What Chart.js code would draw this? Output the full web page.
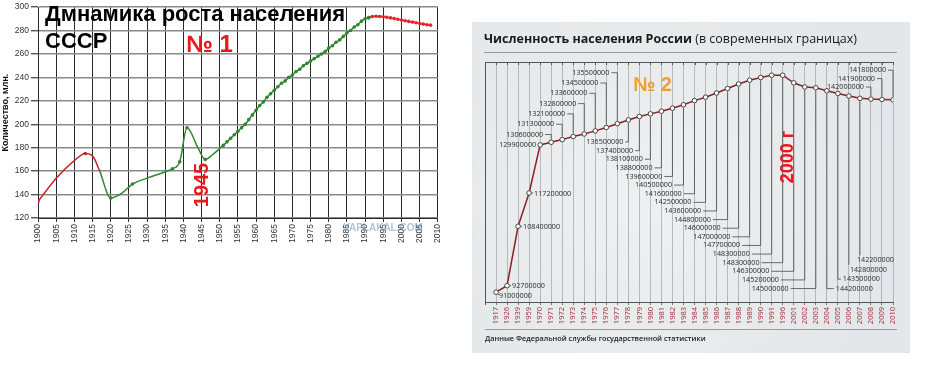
<!DOCTYPE html>
<html>
<head>
<meta charset="utf-8">
<script src="https://cdn.jsdelivr.net/npm/chart.js@4"></script>
<style>
body { margin: 0; background: #fff; width: 945px; height: 380px; overflow: hidden; position: relative; }
#c1 { position: absolute; left: 0; top: 0; }
#c2 { position: absolute; left: 460px; top: 0; }
</style>
</head>
<body>
<canvas id="c1" width="450" height="260"></canvas>
<canvas id="c2" width="475" height="380"></canvas>
<script>
// График 1: население, млн.
const empireYears = [1900, 1905, 1910, 1913, 1915, 1917];
const empireValues = [134, 154, 169, 175, 173, 160];

const ussrYears = [1917, 1920, 1923, 1926, 1930, 1935, 1937, 1939, 1941, 1944, 1946, 1948,
  1951, 1952, 1953, 1954, 1955, 1956, 1957, 1958, 1959, 1960,
  1961, 1962, 1963, 1964, 1965, 1966, 1967, 1968, 1969, 1970,
  1971, 1972, 1973, 1974, 1975, 1976, 1977, 1978, 1979, 1980,
  1981, 1982, 1983, 1984, 1985, 1986, 1987, 1988, 1989, 1990, 1991];
const ussrValues = [160, 137, 141, 149, 154, 159.5, 162, 168, 197, 180, 170, 174,
  182, 185, 188, 191, 194, 197, 200, 204, 208, 212,
  216, 219, 223, 226, 229, 232, 235, 237, 240, 242,
  245, 247, 250, 252, 254, 256, 258, 260, 262, 265,
  267, 270, 272, 275, 278, 280, 283, 285, 288, 290, 291];

const postYears = [1991, 1992, 1993, 1994, 1995, 1996, 1997, 1998, 1999, 2000,
  2001, 2002, 2003, 2004, 2005, 2006, 2007, 2008];
const postValues = [291, 292, 292.2, 292, 291.8, 291.3, 290.8, 290.2, 289.6, 289,
  288.4, 287.8, 287.2, 286.6, 286, 285.5, 285, 284.6];

// годы без точки-маркера (только изгиб кривой)
const curveOnlyYears = [1905, 1910, 1915, 1917, 1923, 1930, 1935, 1944, 1948];

// График 2: Россия
const ruYears = ['1917', '1926', '1939', '1959', '1970', '1971', '1972', '1973', '1974', '1975',
  '1976', '1977', '1978', '1979', '1980', '1981', '1982', '1983', '1984', '1985',
  '1986', '1987', '1988', '1989', '1990', '1991', '1996', '2001', '2002', '2003',
  '2004', '2005', '2006', '2007', '2008', '2009', '2010'];
const ruPopulation = [91000000, 92700000, 108400000, 117200000, 129900000, 130600000, 131300000,
  132100000, 132800000, 133600000, 134500000, 135500000, 136500000, 137400000, 138100000,
  138800000, 139600000, 140500000, 141600000, 142500000, 143600000, 144800000, 146000000,
  147000000, 147700000, 148300000, 148300000, 146300000, 145200000, 145000000, 144200000,
  143500000, 142800000, 142200000, 142000000, 141900000, 141800000];

function pts(xs, ys) {
  return xs.map((x, i) => ({ x: x, y: ys[i] }));
}
function markerRadius(r) {
  return (c) => (c.raw && curveOnlyYears.includes(c.raw.x)) ? 0 : r;
}

const sansFont = 'Arial, "Liberation Sans", sans-serif';

// подписи поверх графика 1
const textsOne = {
  id: 'textsOne',
  afterDraw(chart) {
    const ctx = chart.ctx;
    ctx.save();
    ctx.fillStyle = '#000';
    ctx.textAlign = 'left';
    ctx.textBaseline = 'alphabetic';
    ctx.font = 'bold 22px ' + sansFont;
    ctx.fillText('Дмнамика роста населения', 45, 21);
    ctx.fillText('СССР', 45, 48);
    ctx.fillStyle = '#e8191d';
    ctx.font = 'bold 24px ' + sansFont;
    ctx.fillText('№ 1', 186, 52);
    // 1945 вертикально
    ctx.translate(202, 185);
    ctx.rotate(-Math.PI / 2);
    ctx.font = 'bold 20px ' + sansFont;
    ctx.textAlign = 'center';
    ctx.textBaseline = 'middle';
    ctx.fillText('1945', 0, 0);
    ctx.restore();

    ctx.save();
    ctx.fillStyle = 'rgba(110,150,185,0.55)';
    ctx.font = 'bold 10px ' + sansFont;
    ctx.textAlign = 'center';
    ctx.textBaseline = 'middle';
    ctx.fillText('YAPLAKAL.COM', 383, 228);
    ctx.restore();
  }
};

new Chart(document.getElementById('c1'), {
  type: 'line',
  data: {
    datasets: [
      {
        data: pts(empireYears, empireValues),
        borderColor: '#c3282c', backgroundColor: '#c3282c',
        borderWidth: 1.5, pointRadius: markerRadius(1.8), pointBorderWidth: 0,
        cubicInterpolationMode: 'monotone'
      },
      {
        data: pts(ussrYears, ussrValues),
        borderColor: '#2e862e', backgroundColor: '#2e862e',
        borderWidth: 1.5, pointRadius: markerRadius(1.8), pointBorderWidth: 0,
        cubicInterpolationMode: 'monotone'
      },
      {
        data: pts(postYears, postValues),
        borderColor: '#e3262b', backgroundColor: '#e3262b',
        borderWidth: 1.5, pointRadius: 1.8, pointBorderWidth: 0,
        cubicInterpolationMode: 'monotone'
      }
    ]
  },
  options: {
    responsive: false,
    animation: false,
    devicePixelRatio: 1,
    layout: { padding: { left: 0, right: 8, top: 6, bottom: 0 } },
    plugins: { legend: { display: false }, tooltip: { enabled: false } },
    scales: {
      x: {
        type: 'linear', min: 1900, max: 2010,
        ticks: {
          stepSize: 5, autoSkip: false, maxRotation: 90, minRotation: 90,
          color: '#333', font: { size: 8.5, family: sansFont }, padding: 2,
          callback: (v) => String(v)
        },
        grid: { color: '#2a2a2a', lineWidth: 1, tickLength: 4, tickColor: '#333' },
        border: { color: '#2a2a2a' },
        afterFit: (s) => { s.height = 42; }
      },
      y: {
        min: 120, max: 300,
        ticks: {
          stepSize: 20, color: '#333', font: { size: 8.5, family: sansFont }, padding: 2,
          callback: (v) => String(v)
        },
        grid: { color: '#8a8a8a', lineWidth: 1.4, tickLength: 7, tickColor: '#555' },
        border: { color: '#2a2a2a' },
        title: {
          display: true, text: 'Количество, млн.', color: '#111', padding: 0,
          font: { size: 9, weight: 'bold', family: sansFont }
        },
        afterFit: (s) => { s.width = 38; }
      }
    }
  },
  plugins: [textsOne]
});

// выноски для графика 2
function calloutLayout(i, p, a) {
  let k;
  if (i === 0) {
    return { tx: p.x + 3, ty: p.y + 4, align: 'left', path: [[p.x + 1, p.y + 1], [p.x + 3, p.y + 3]] };
  }
  if (i <= 3) {
    return { tx: p.x + 5, ty: p.y + 0.5, align: 'left', path: [[p.x + 2.5, p.y], [p.x + 4, p.y]] };
  }
  if (i === 4) {
    return { tx: p.x - 4, ty: p.y, align: 'right', path: null };
  }
  if (i <= 11) {
    k = i - 5;
    const ly = a.top + 72.5 - k * 10.3;
    return { tx: p.x - 8, ty: ly, align: 'right', path: [[p.x - 6, ly], [p.x, ly], [p.x, p.y - 3]] };
  }
  if (i <= 29) {
    k = i - 12;
    const ly = a.top + 80 + k * 8.62;
    const tx = p.x - 5 - k * 1.3;
    return { tx: tx, ty: ly, align: 'right', path: [[tx + 2, ly], [p.x, ly], [p.x, p.y + 3]] };
  }
  if (i <= 33) {
    k = i - 30;
    const ly = a.top + 226.6 - k * 9.4;
    const tx = p.x + 9 - k * 4;
    if (tx - 2 > p.x) {
      return { tx: tx, ty: ly, align: 'left', path: [[p.x, p.y + 3], [p.x, ly], [tx - 2, ly]] };
    }
    return { tx: tx, ty: ly, align: 'left', path: [[p.x, p.y + 3], [p.x, ly - 5]] };
  }
  k = i - 34;
  const ly = a.top + 25 - k * 8.4;
  return { tx: p.x - 7, ty: ly, align: 'right', path: [[p.x - 5, ly], [p.x, ly], [p.x, p.y - 3]] };
}

const framePlugin = {
  id: 'frame',
  beforeDraw(chart) {
    const ctx = chart.ctx;
    ctx.save();
    // фон панели
    ctx.fillStyle = '#e4e7e9';
    ctx.fillRect(12, 22, 438, 331);
    const g = ctx.createRadialGradient(180, 200, 10, 180, 200, 260);
    g.addColorStop(0, 'rgba(255,255,255,0.35)');
    g.addColorStop(1, 'rgba(255,255,255,0)');
    ctx.fillStyle = g;
    ctx.fillRect(12, 22, 438, 331);
    // заголовок
    ctx.fillStyle = '#1a1a1a';
    ctx.textBaseline = 'alphabetic';
    ctx.font = 'bold 12.5px "Open Sans"';
    const head = 'Численность населения России';
    ctx.fillText(head, 24, 43);
    const w = ctx.measureText(head).width;
    ctx.font = '12.5px "Open Sans"';
    ctx.fillText(' (в современных границах)', 24 + w, 43);
    ctx.strokeStyle = '#9a9a9a';
    ctx.lineWidth = 1;
    ctx.beginPath();
    ctx.moveTo(24, 52.5); ctx.lineTo(437, 52.5);
    ctx.moveTo(25, 329.5); ctx.lineTo(437, 329.5);
    ctx.stroke();
    // подвал
    ctx.font = '600 7.3px "Open Sans"';
    ctx.fillStyle = '#222';
    ctx.fillText('Данные Федеральной службы государственной статистики', 25, 341);
    ctx.restore();
  },
  beforeDatasetsDraw(chart) {
    const ctx = chart.ctx;
    const a = chart.chartArea;
    const xs = chart.scales.x;
    ctx.save();
    // верхняя рамка с засечками
    ctx.strokeStyle = '#555';
    ctx.lineWidth = 1;
    ctx.beginPath();
    ctx.moveTo(a.left, a.top + 0.5); ctx.lineTo(a.right, a.top + 0.5);
    for (let i = 0; i < ruYears.length; i++) {
      const x = Math.round(xs.getPixelForValue(i)) + 0.5;
      ctx.moveTo(x, a.top); ctx.lineTo(x, a.top + 3);
    }
    ctx.stroke();
    // линии выносок
    const pts2 = chart.getDatasetMeta(0).data;
    ctx.strokeStyle = '#4a4a4a';
    ctx.lineWidth = 0.8;
    pts2.forEach((p, i) => {
      const L = calloutLayout(i, p, a);
      if (!L.path) return;
      ctx.beginPath();
      L.path.forEach((q, j) => j ? ctx.lineTo(q[0], q[1]) : ctx.moveTo(q[0], q[1]));
      ctx.stroke();
    });
    ctx.restore();
  },
  afterDatasetsDraw(chart) {
    const ctx = chart.ctx;
    const a = chart.chartArea;
    const pts2 = chart.getDatasetMeta(0).data;
    ctx.save();
    ctx.font = '7.2px "Open Sans"';
    ctx.fillStyle = '#2b2b2b';
    ctx.textBaseline = 'middle';
    pts2.forEach((p, i) => {
      const L = calloutLayout(i, p, a);
      ctx.textAlign = L.align;
      ctx.fillText(String(ruPopulation[i]), L.tx, L.ty);
    });
    ctx.restore();

    ctx.save();
    ctx.fillStyle = '#f0a032';
    ctx.font = 'bold 20px ' + sansFont;
    ctx.textAlign = 'left';
    ctx.textBaseline = 'alphabetic';
    ctx.fillText('№ 2', 173, 91);
    ctx.fillStyle = '#e8191d';
    ctx.translate(328, 157);
    ctx.rotate(-Math.PI / 2);
    ctx.font = 'bold 18px ' + sansFont;
    ctx.textAlign = 'center';
    ctx.textBaseline = 'middle';
    ctx.fillText('2000 г', 0, 0);
    ctx.restore();
  }
};

new Chart(document.getElementById('c2'), {
  type: 'line',
  data: {
    datasets: [{
      data: ruPopulation.map((v, i) => ({ x: i, y: v })),
      borderColor: '#8e1f22',
      borderWidth: 1.5,
      pointRadius: 2.3,
      pointBackgroundColor: '#ffffff',
      pointBorderColor: '#444',
      pointBorderWidth: 1,
      tension: 0
    }]
  },
  options: {
    responsive: false,
    animation: false,
    devicePixelRatio: 1,
    layout: { padding: { left: 25, right: 42, top: 62, bottom: 0 } },
    plugins: { legend: { display: false }, tooltip: { enabled: false } },
    scales: {
      x: {
        type: 'linear', min: -1, max: 36,
        ticks: {
          stepSize: 1, autoSkip: false, maxRotation: 90, minRotation: 90,
          color: '#9c2f35', font: { size: 7.5, family: '"Open Sans"' }, padding: 2,
          callback: (v) => ruYears[v] || ''
        },
        grid: {
          color: (c) => c.tick && c.tick.value === -1 ? '#555' : 'rgba(120,130,140,0.6)',
          lineWidth: (c) => c.tick && c.tick.value === -1 ? 1 : 0.8,
          tickLength: 3, tickColor: '#555'
        },
        border: { color: '#555' },
        afterFit: (s) => { s.height = 78; }
      },
      y: {
        display: false,
        min: 88400000, max: 151800000
      }
    }
  },
  plugins: [framePlugin]
});
</script>
</body>
</html>
